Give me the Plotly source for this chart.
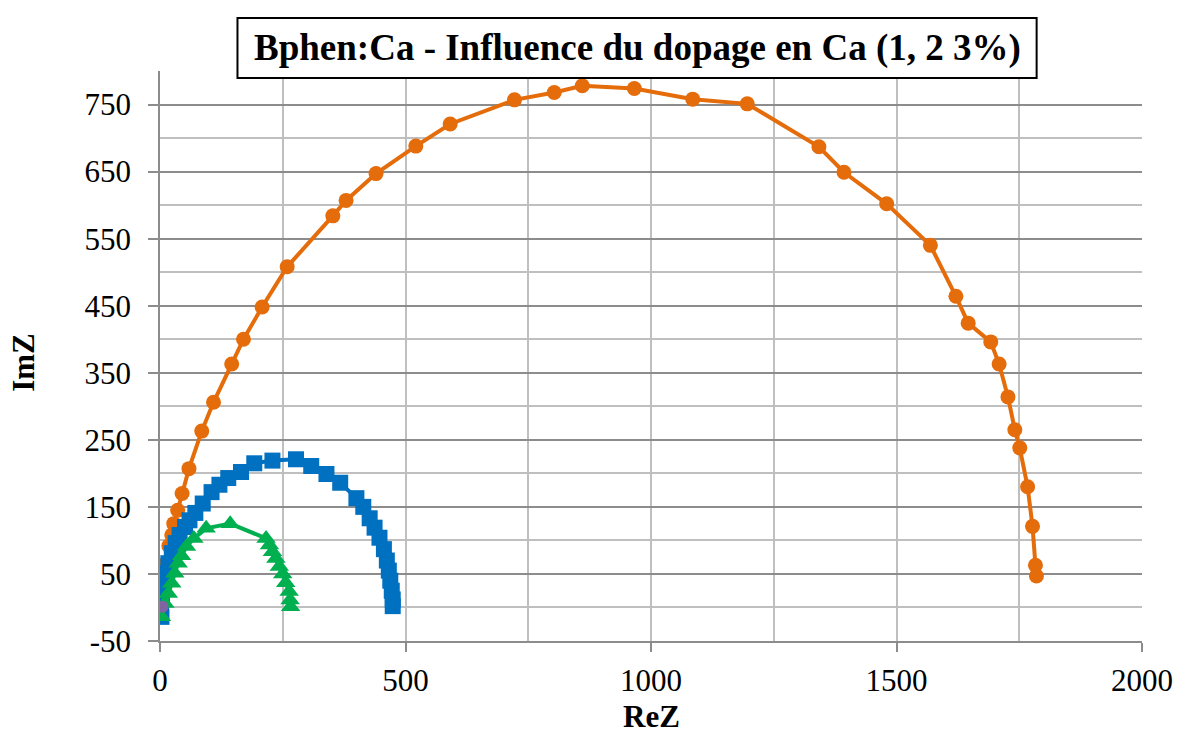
import plotly.graph_objects as go

# Nyquist data: Bphen doped with Ca (ReZ, ImZ pairs per doping level)
orange_re = [3, 5, 8, 12, 18, 24, 28, 36, 45, 59, 85, 109, 146, 170, 208, 259, 352, 379,
             440, 521, 591, 722, 803, 860, 966, 1085, 1196, 1342, 1393, 1480, 1569, 1621,
             1646, 1692, 1709, 1727, 1741, 1751, 1767, 1777, 1783, 1785]
orange_im = [10, 30, 50, 66, 92, 108, 125, 145, 170, 207, 263, 306, 363, 400, 448, 508, 584, 607,
             647, 688, 721, 757, 768, 778, 774, 758, 751, 687, 649, 602, 540, 464,
             424, 396, 363, 314, 265, 238, 180, 121, 63, 47]

blue_re = [474, 474, 472, 469, 466, 462, 456, 447, 437, 427, 414, 400, 367, 339, 308, 277,
           229, 192, 165, 139, 121, 105, 87, 72, 60, 51, 40, 32, 24, 17, 12, 7, 4, 2, 3]
blue_im = [2, 12, 25, 40, 55, 70, 87, 104, 119, 133, 150, 163, 186, 199, 211, 221,
           219, 215, 202, 193, 183, 172, 155, 141, 130, 120, 108, 96, 81, 66, 51, 32, 16, 2, -14]

green_re = [266, 265, 263, 256, 250, 243, 236, 229, 223, 216, 143, 94, 69, 54, 44, 37, 30, 24, 17, 10, 3]
green_im = [1, 11, 24, 37, 50, 61, 73, 83, 93, 103, 125, 118, 103, 91, 77, 66, 51, 36, 21, 6, -14]

purple_re = [5]
purple_im = [1]

x_ticks = [0, 500, 1000, 1500, 2000]
y_ticks = [-50, 50, 150, 250, 350, 450, 550, 650, 750]

title_text = "Bphen:Ca - Influence du dopage en Ca (1, 2 3%)"

SERIF = "'Liberation Serif', 'Times New Roman', Times, 'DejaVu Serif', serif"
ORANGE = "#E46C0A"
BLUE = "#0070C0"
GREEN = "#00B050"
PURPLE = "#8064A2"

fig = go.Figure()
fig.add_trace(go.Scatter(x=orange_re, y=orange_im, mode="lines+markers",
                         line=dict(color=ORANGE, width=4),
                         marker=dict(symbol="circle", size=15, color=ORANGE)))
fig.add_trace(go.Scatter(x=blue_re, y=blue_im, mode="lines+markers",
                         line=dict(color=BLUE, width=4),
                         marker=dict(symbol="square", size=16, color=BLUE)))
fig.add_trace(go.Scatter(x=green_re, y=green_im, mode="lines+markers",
                         line=dict(color=GREEN, width=4),
                         marker=dict(symbol="triangle-up", size=17, color=GREEN)))
fig.add_trace(go.Scatter(x=purple_re, y=purple_im, mode="markers",
                         marker=dict(symbol="circle", size=12, color=PURPLE)))

LIGHT = "#BFBFBF"
DARK = "#8C8C8C"

fig.update_xaxes(range=[0, 2000], tickmode="array", tickvals=x_ticks,
                 ticktext=[str(v) for v in x_ticks],
                 showgrid=True, gridcolor=LIGHT, gridwidth=1.5,
                 minor=dict(dtick=250, tick0=0, showgrid=True, gridcolor=LIGHT, gridwidth=1.5),
                 zeroline=False, showline=True, linecolor=DARK, linewidth=1.5,
                 ticks="outside", ticklen=9, tickcolor=DARK, tickwidth=1.5,
                 ticklabelstandoff=2,
                 tickfont=dict(family=SERIF, size=31, color="black"))
fig.update_yaxes(range=[-50, 800], tickmode="array", tickvals=y_ticks,
                 ticktext=[str(v) for v in y_ticks],
                 showgrid=True, gridcolor=DARK, gridwidth=1.5,
                 minor=dict(dtick=50, tick0=-50, showgrid=True, gridcolor=LIGHT, gridwidth=1.5),
                 zeroline=False, showline=True, linecolor=DARK, linewidth=1.5,
                 ticks="outside", ticklen=10, tickcolor=DARK, tickwidth=1.5,
                 ticklabelstandoff=11,
                 tickfont=dict(family=SERIF, size=31, color="black"))

# Title box overlapping the top of the plot area
fig.add_shape(type="rect", xref="paper", yref="paper",
              x0=0.0789, x1=0.8927, y0=0.9877, y1=1.093,
              line=dict(color="black", width=2), fillcolor="white", layer="above")
fig.add_annotation(text="<b>" + title_text + "</b>", xref="paper", yref="paper",
                   x=0.4858, y=1.0404, xanchor="center", yanchor="middle",
                   showarrow=False, font=dict(family=SERIF, size=37, color="black"))

# Axis titles
fig.add_annotation(text="<b>ReZ</b>", xref="paper", yref="paper",
                   x=0.501, y=-0.1667, xanchor="center", yanchor="bottom",
                   showarrow=False, font=dict(family=SERIF, size=31, color="black"))
fig.add_annotation(text="<b>ImZ</b>", xref="paper", yref="paper",
                   x=-0.1387, y=0.4895, xanchor="center", yanchor="middle", textangle=-90,
                   showarrow=False, font=dict(family=SERIF, size=31, color="black"))

fig.update_layout(width=1185, height=736, autosize=False,
                  margin=dict(l=160, r=37, t=71, b=95),
                  paper_bgcolor="white", plot_bgcolor="white",
                  showlegend=False)

fig.write_html("out.html")
